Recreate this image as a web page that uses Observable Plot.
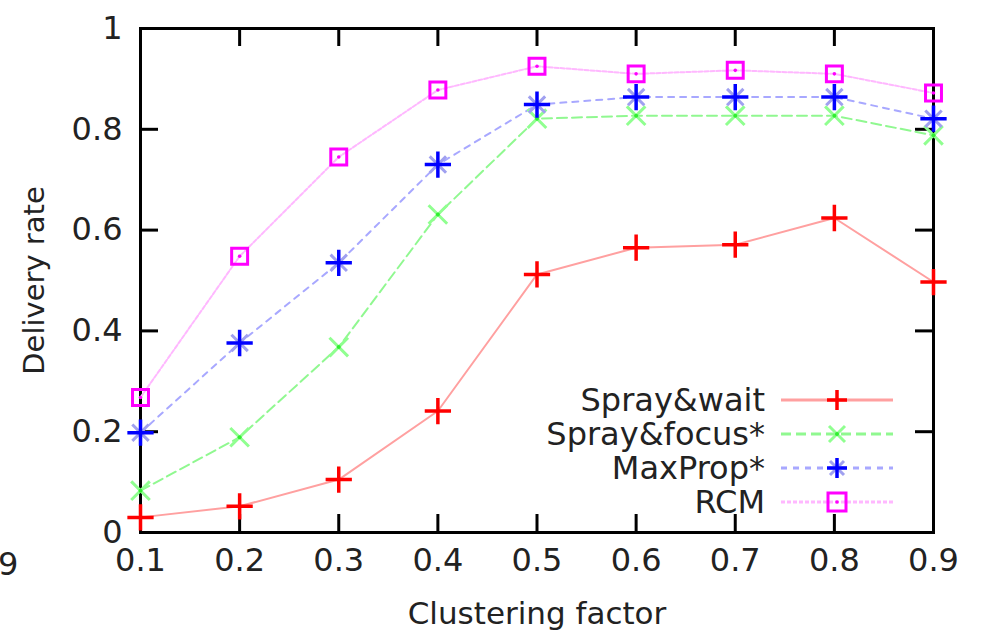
<!DOCTYPE html>
<html>
<head>
<meta charset="utf-8">
<script src="https://cdn.jsdelivr.net/npm/d3@7"></script>
<script src="https://cdn.jsdelivr.net/npm/@observablehq/plot@0.6"></script>
<style>
  html, body { margin: 0; padding: 0; background: #fff; }
  #wrap { position: relative; width: 984px; height: 635px; overflow: hidden; }
  #legend { position: absolute; left: 0; top: 0; pointer-events: none; }
  #stray { position: absolute; left: -2px; top: 545px; font: 32px "DejaVu Sans"; color: #222; }
</style>
</head>
<body>
<div id="wrap"><div id="stray">9</div></div>
<script>
// ---- data ----
const clustering = [0.1, 0.2, 0.3, 0.4, 0.5, 0.6, 0.7, 0.8, 0.9];
const sprayWait  = [0.030, 0.052, 0.105, 0.241, 0.512, 0.565, 0.571, 0.624, 0.497];
const sprayFocus = [0.083, 0.189, 0.368, 0.631, 0.821, 0.827, 0.827, 0.827, 0.788];
const maxProp    = [0.198, 0.376, 0.535, 0.730, 0.849, 0.864, 0.864, 0.864, 0.821];
const rcm        = [0.268, 0.548, 0.745, 0.878, 0.925, 0.910, 0.917, 0.910, 0.872];
const seriesNames = ["Spray&wait", "Spray&focus*", "MaxProp*", "RCM"];
const xTicks = [0.1, 0.2, 0.3, 0.4, 0.5, 0.6, 0.7, 0.8, 0.9];
const yTicks = [0, 0.2, 0.4, 0.6, 0.8, 1];
const yTickLabels = ["0", "0.2", "0.4", "0.6", "0.8", "1"];
const xTitle = "Clustering factor";
const yTitle = "Delivery rate";

// ---- styles ----
const seriesValues = [sprayWait, sprayFocus, maxProp, rcm];
const markColor = ["#ff0000", "#30ee30", "#0000ff", "#ff00ff"];
const lineColor = ["#ffa0a0", "#90f890", "#a8a8ff", "#ffb8ff"];
const lineDash  = [null, "10,5", "6,6", "4,2"];

const rows = seriesNames.flatMap((name, i) =>
  clustering.map((x, j) => ({series: name, idx: i, x, y: seriesValues[i][j]})));

const W = 984, H = 635, mL = 140, mR = 51, mT = 28, mB = 103;
const innerW = W - mL - mR, innerH = H - mT - mB;
const tick = 18;

const byIdx = i => rows.filter(d => d.idx === i);

const marks = [
  Plot.frame({stroke: "black", strokeWidth: 3}),
  Plot.tickY(yTicks, {y: d => d, insetRight: innerW - tick, stroke: "black", strokeWidth: 3}),
  Plot.tickY(yTicks, {y: d => d, insetLeft: innerW - tick, stroke: "black", strokeWidth: 3}),
  Plot.tickX(xTicks, {x: d => d, insetTop: innerH - tick, stroke: "black", strokeWidth: 3}),
  Plot.tickX(xTicks, {x: d => d, insetBottom: innerH - tick, stroke: "black", strokeWidth: 3}),
  Plot.axisX({ticks: xTicks, tickSize: 0, tickPadding: 16, tickFormat: d => d.toFixed(1),
    label: null, fill: "#222"}),
  Plot.axisY({ticks: yTicks, tickSize: 0, tickPadding: 18, tickFormat: d => yTickLabels[yTicks.indexOf(d)],
    label: null, fill: "#222"}),
  Plot.text([xTitle], {text: d => d, frameAnchor: "bottom", dy: 91, fontSize: 31, fill: "#222"}),
  Plot.text([yTitle], {text: d => d, frameAnchor: "left", textAnchor: "middle", rotate: -90, dx: -106, fontSize: 29, fill: "#222"})
];

seriesNames.forEach((name, i) => {
  marks.push(Plot.line(byIdx(i), {x: "x", y: "y", stroke: lineColor[i], strokeWidth: 2,
    strokeDasharray: lineDash[i] || undefined}));
});
// markers
marks.push(Plot.dot(byIdx(0), {x: "x", y: "y", symbol: "plus", r: 8.5, stroke: markColor[0], strokeWidth: 3.5}));
marks.push(Plot.dot(byIdx(1), {x: "x", y: "y", symbol: "times", r: 8.5, stroke: "#90ff90", strokeWidth: 3}));
marks.push(Plot.dot(byIdx(1), {x: "x", y: "y", r: 2, fill: markColor[1], stroke: "none"}));
marks.push(Plot.dot(byIdx(2), {x: "x", y: "y", symbol: "times", r: 7.5, stroke: "#a0a0f0", strokeWidth: 3}));
marks.push(Plot.dot(byIdx(2), {x: "x", y: "y", symbol: "plus", r: 8.5, stroke: markColor[2], strokeWidth: 3.5}));
marks.push(Plot.dot(byIdx(3), {x: "x", y: "y", symbol: "square", r: 9, fill: "none", stroke: markColor[3], strokeWidth: 3}));
marks.push(Plot.dot(byIdx(3), {x: "x", y: "y", r: 1.8, fill: markColor[3], stroke: "none"}));

const chart = Plot.plot({
  width: W, height: H,
  marginLeft: mL, marginRight: mR, marginTop: mT, marginBottom: mB,
  x: {domain: [0.1, 0.9]},
  y: {domain: [0, 1]},
  style: {fontFamily: "DejaVu Sans", fontSize: "32px", background: "white", color: "#222", overflow: "visible"},
  marks
});
document.getElementById("wrap").appendChild(chart);

// ---- legend (drawn inside the frame, bottom right) ----
const lg = d3.select("#wrap").append("svg").attr("id", "legend")
  .attr("width", W).attr("height", H)
  .style("font-family", "DejaVu Sans").style("font-size", "32px");
const rowY = [400, 434, 468, 502];
const textX = 765, lineX1 = 781, lineX2 = 893, symX = 837;
seriesNames.forEach((name, i) => {
  const y = rowY[i];
  lg.append("text").attr("x", textX).attr("y", y).attr("dy", "0.35em")
    .attr("text-anchor", "end").attr("fill", "#222").text(name);
  lg.append("line").attr("x1", lineX1).attr("x2", lineX2).attr("y1", y).attr("y2", y)
    .attr("stroke", lineColor[i]).attr("stroke-width", 3)
    .attr("stroke-dasharray", lineDash[i]);
  const g = lg.append("g").attr("transform", `translate(${symX},${y})`);
  if (i === 0 || i === 2) {
    if (i === 2) g.append("path").attr("d", "M-7,-7L7,7M-7,7L7,-7").attr("stroke", "#a0a0f0").attr("stroke-width", 3);
    g.append("path").attr("d", "M-10,0H10M0,-10V10").attr("stroke", markColor[i]).attr("stroke-width", 3.5);
  } else if (i === 1) {
    g.append("path").attr("d", "M-8,-8L8,8M-8,8L8,-8").attr("stroke", "#90ff90").attr("stroke-width", 3);
    g.append("circle").attr("r", 2).attr("fill", markColor[1]);
  } else {
    g.append("rect").attr("x", -9).attr("y", -9).attr("width", 18).attr("height", 18)
      .attr("fill", "none").attr("stroke", markColor[3]).attr("stroke-width", 3);
    g.append("circle").attr("r", 1.8).attr("fill", markColor[3]);
  }
});
</script>
</body>
</html>
